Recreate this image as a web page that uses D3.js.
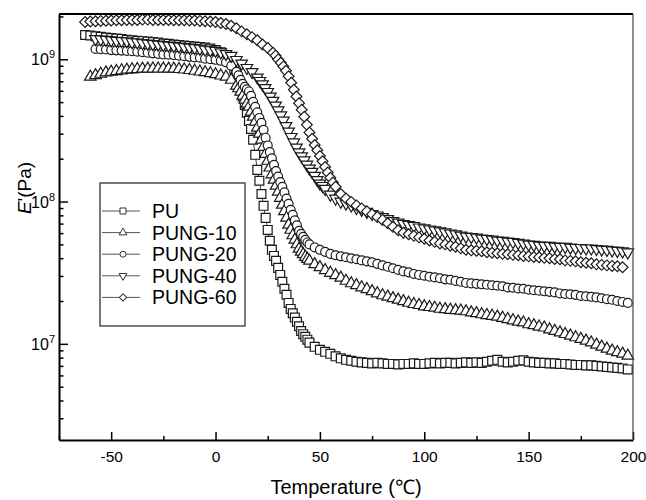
<!DOCTYPE html>
<html lang="en">

<head>
    <meta charset="UTF-8">
    <title>E' vs Temperature</title>
    <script src="https://d3js.org/d3.v7.min.js"></script>
    <style type="text/css">
        body { margin: 0; background: #fff; }
        text { font-family: "Liberation Sans", Arial, sans-serif; fill: #000; }
    </style>
</head>

<body>
    <div id="graph"></div>
</body>
<script>

    // storage modulus E' (Pa), [temperature, E']
    var puData = [
        [-62.5, 1.48e9], [-60, 1.47e9], [-57.5, 1.45e9], [-55, 1.44e9], [-52.5, 1.42e9], [-50, 1.41e9], [-47.5, 1.40e9],
        [-45, 1.39e9], [-42.5, 1.37e9], [-40, 1.36e9], [-37.5, 1.35e9], [-35, 1.34e9], [-32.5, 1.33e9], [-30, 1.32e9],
        [-27.5, 1.31e9], [-25, 1.29e9], [-22.5, 1.285e9], [-20, 1.27e9], [-17.5, 1.26e9], [-15, 1.25e9], [-12.5, 1.24e9],
        [-10, 1.23e9], [-7.5, 1.22e9], [-5, 1.21e9], [-2.5, 1.19e9], [0, 1.16e9], [2.5, 1.12e9], [5, 1.06e9],
        [6, 1.01e9], [7, 9.75e8], [8, 9.29e8], [9, 8.57e8], [10, 7.77e8], [11, 7.05e8], [12, 6.29e8], [13, 5.48e8],
        [14, 4.78e8], [15, 4.21e8], [16, 3.69e8], [17, 3.24e8], [18, 2.72e8], [19, 2.13e8], [20, 1.67e8], [21, 1.40e8],
        [22, 1.13e8], [23, 9.33e7], [24, 7.68e7], [25, 6.32e7], [26, 5.30e7], [27, 4.58e7], [28, 4.15e7], [29, 3.83e7],
        [30, 3.42e7], [31, 3.05e7], [32, 2.73e7], [33, 2.44e7], [34, 2.21e7], [35, 1.94e7], [36, 1.76e7], [37, 1.64e7],
        [38, 1.53e7], [39, 1.43e7], [40, 1.33e7], [41, 1.23e7], [42, 1.17e7], [43, 1.12e7], [44, 1.07e7], [45, 1.02e7],
        [47.5, 9.53e6], [50, 9.08e6], [52.5, 8.79e6], [55, 8.51e6], [57.5, 8.17e6], [60, 7.91e6], [62.5, 7.72e6],
        [65, 7.60e6], [67.5, 7.48e6], [70, 7.41e6], [72.5, 7.35e6], [75, 7.29e6], [77.5, 7.35e6], [80, 7.29e6],
        [82.5, 7.23e6], [85, 7.23e6], [87.5, 7.17e6], [90, 7.23e6], [92.5, 7.23e6], [95, 7.29e6], [97.5, 7.23e6],
        [100, 7.23e6], [102.5, 7.29e6], [105, 7.35e6], [107.5, 7.29e6], [110, 7.35e6], [112.5, 7.35e6], [115, 7.29e6],
        [117.5, 7.35e6], [120, 7.41e6], [122.5, 7.35e6], [125, 7.41e6], [127.5, 7.35e6], [130, 7.48e6], [132.5, 7.60e6],
        [135, 7.72e6], [137.5, 7.48e6], [140, 7.41e6], [142.5, 7.48e6], [145, 7.60e6], [147.5, 7.66e6], [150, 7.48e6],
        [152.5, 7.41e6], [155, 7.35e6], [157.5, 7.35e6], [160, 7.29e6], [162.5, 7.29e6], [165, 7.23e6], [167.5, 7.23e6],
        [170, 7.17e6], [172.5, 7.11e6], [175, 7.11e6], [177.5, 7.06e6], [180, 7.06e6], [182.5, 7.00e6], [185, 6.94e6],
        [187.5, 6.89e6], [190, 6.83e6], [192.5, 6.78e6], [195, 6.72e6], [197.5, 6.61e6]
    ];

    var pung10Data = [
        [-60, 7.52e8], [-57.5, 7.71e8], [-55, 7.89e8], [-52.5, 8.07e8], [-50, 8.15e8], [-47.5, 8.24e8], [-45, 8.34e8],
        [-42.5, 8.43e8], [-40, 8.48e8], [-37.5, 8.52e8], [-35, 8.57e8], [-32.5, 8.57e8], [-30, 8.59e8], [-27.5, 8.59e8],
        [-25, 8.59e8], [-22.5, 8.57e8], [-20, 8.57e8], [-17.5, 8.52e8], [-15, 8.45e8], [-12.5, 8.38e8], [-10, 8.28e8],
        [-7.5, 8.18e8], [-5, 8.09e8], [-2.5, 7.96e8], [0, 7.83e8], [2.5, 7.67e8], [5, 7.52e8], [7.5, 7.16e8], [10, 6.50e8],
        [11, 6.24e8], [12, 5.90e8], [13, 5.53e8], [14, 5.19e8], [15, 4.86e8], [16, 4.63e8], [17, 4.27e8], [18, 3.94e8],
        [19, 3.63e8], [20, 3.30e8], [21, 2.99e8], [22, 2.72e8], [23, 2.42e8], [24, 2.16e8], [25, 1.93e8], [26, 1.73e8],
        [27, 1.55e8], [28, 1.42e8], [29, 1.29e8], [30, 1.17e8], [31, 1.06e8], [32, 9.48e7], [33, 8.53e7], [34, 7.68e7],
        [35, 6.86e7], [36, 6.32e7], [37, 5.78e7], [38, 5.38e7], [39, 5.00e7], [40, 4.65e7], [41, 4.43e7], [42, 4.26e7],
        [43, 4.08e7], [44, 3.95e7], [45, 3.83e7], [47.5, 3.62e7], [50, 3.45e7], [52.5, 3.29e7], [55, 3.15e7],
        [57.5, 3.03e7], [60, 2.91e7], [62.5, 2.77e7], [65, 2.66e7], [67.5, 2.58e7], [70, 2.49e7], [72.5, 2.42e7],
        [75, 2.34e7], [77.5, 2.26e7], [80, 2.19e7], [82.5, 2.14e7], [85, 2.09e7], [87.5, 2.04e7], [90, 1.99e7],
        [92.5, 1.94e7], [95, 1.90e7], [97.5, 1.87e7], [100, 1.83e7], [102.5, 1.81e7], [105, 1.79e7], [107.5, 1.76e7],
        [110, 1.75e7], [112.5, 1.73e7], [115, 1.72e7], [117.5, 1.71e7], [120, 1.69e7], [122.5, 1.66e7], [125, 1.64e7],
        [127.5, 1.61e7], [130, 1.59e7], [132.5, 1.57e7], [135, 1.55e7], [137.5, 1.52e7], [140, 1.49e7], [142.5, 1.46e7],
        [145, 1.43e7], [147.5, 1.41e7], [150, 1.37e7], [152.5, 1.35e7], [155, 1.32e7], [157.5, 1.30e7], [160, 1.26e7],
        [162.5, 1.23e7], [165, 1.20e7], [167.5, 1.17e7], [170, 1.14e7], [172.5, 1.11e7], [175, 1.08e7], [177.5, 1.05e7],
        [180, 1.02e7], [182.5, 9.84e6], [185, 9.53e6], [187.5, 9.23e6], [190, 8.93e6], [192.5, 8.71e6], [195, 8.51e6],
        [197.5, 8.24e6]
    ];

    var pung20Data = [
        [-57.5, 1.18e9], [-55, 1.178e9], [-52.5, 1.17e9], [-50, 1.16e9], [-47.5, 1.155e9], [-45, 1.15e9], [-42.5, 1.145e9],
        [-40, 1.14e9], [-37.5, 1.13e9], [-35, 1.12e9], [-32.5, 1.11e9], [-30, 1.10e9], [-27.5, 1.09e9], [-25, 1.08e9],
        [-22.5, 1.076e9], [-20, 1.07e9], [-17.5, 1.06e9], [-15, 1.05e9], [-12.5, 1.04e9], [-10, 1.03e9], [-7.5, 1.025e9],
        [-5, 1.01e9], [-2.5, 1.00e9], [0, 9.91e8], [2.5, 9.75e8], [5, 9.51e8], [7.5, 8.99e8], [10, 8.15e8],
        [11, 7.71e8], [12, 7.16e8], [13, 6.71e8], [14, 6.40e8], [15, 6.14e8], [16, 5.94e8], [17, 5.53e8], [18, 5.02e8],
        [19, 4.63e8], [20, 4.24e8], [21, 3.87e8], [22, 3.57e8], [23, 3.19e8], [24, 2.81e8], [25, 2.48e8], [26, 2.23e8],
        [27, 2.01e8], [28, 1.81e8], [29, 1.64e8], [30, 1.50e8], [31, 1.37e8], [32, 1.27e8], [33, 1.16e8], [34, 1.05e8],
        [35, 9.64e7], [36, 8.75e7], [37, 8.07e7], [38, 7.38e7], [39, 6.81e7], [40, 6.22e7], [41, 5.93e7], [42, 5.65e7],
        [43, 5.38e7], [44, 5.16e7], [45, 5.00e7], [47.5, 4.76e7], [50, 4.58e7], [52.5, 4.43e7], [55, 4.29e7],
        [57.5, 4.19e7], [60, 4.12e7], [62.5, 4.06e7], [65, 3.99e7], [67.5, 3.93e7], [70, 3.86e7], [72.5, 3.80e7],
        [75, 3.74e7], [77.5, 3.65e7], [80, 3.56e7], [82.5, 3.48e7], [85, 3.40e7], [87.5, 3.31e7], [90, 3.23e7],
        [92.5, 3.18e7], [95, 3.10e7], [97.5, 3.05e7], [100, 3.01e7], [102.5, 2.96e7], [105, 2.93e7], [107.5, 2.89e7],
        [110, 2.84e7], [112.5, 2.82e7], [115, 2.77e7], [117.5, 2.73e7], [120, 2.68e7], [122.5, 2.66e7], [125, 2.64e7],
        [127.5, 2.62e7], [130, 2.60e7], [132.5, 2.58e7], [135, 2.56e7], [137.5, 2.54e7], [140, 2.49e7], [142.5, 2.48e7],
        [145, 2.45e7], [147.5, 2.44e7], [150, 2.40e7], [152.5, 2.38e7], [155, 2.36e7], [157.5, 2.34e7], [160, 2.32e7],
        [162.5, 2.30e7], [165, 2.26e7], [167.5, 2.24e7], [170, 2.23e7], [172.5, 2.21e7], [175, 2.17e7], [177.5, 2.16e7],
        [180, 2.14e7], [182.5, 2.12e7], [185, 2.09e7], [187.5, 2.06e7], [190, 2.04e7], [192.5, 2.00e7], [195, 1.97e7],
        [197.5, 1.94e7]
    ];

    var pung40Data = [
        [-57.5, 1.39e9], [-55, 1.38e9], [-52.5, 1.37e9], [-50, 1.36e9], [-47.5, 1.35e9], [-45, 1.345e9], [-42.5, 1.34e9],
        [-40, 1.32e9], [-37.5, 1.315e9], [-35, 1.30e9], [-32.5, 1.29e9], [-30, 1.28e9], [-27.5, 1.27e9], [-25, 1.26e9],
        [-22.5, 1.25e9], [-20, 1.24e9], [-17.5, 1.23e9], [-15, 1.22e9], [-12.5, 1.21e9], [-10, 1.20e9], [-7.5, 1.19e9],
        [-5, 1.17e9], [-2.5, 1.16e9], [0, 1.15e9], [2.5, 1.12e9], [5, 1.09e9], [7.5, 1.06e9], [10, 9.91e8],
        [12.5, 9.35e8], [15, 8.70e8], [17.5, 8.15e8], [20, 7.46e8], [21.25, 7.05e8], [22.5, 6.67e8], [23.75, 6.29e8],
        [25, 5.90e8], [26.25, 5.48e8], [27.5, 5.11e8], [28.75, 4.74e8], [30, 4.38e8], [31.25, 4.04e8], [32.5, 3.72e8],
        [33.75, 3.40e8], [35, 3.11e8], [36.25, 2.85e8], [37.5, 2.61e8], [38.75, 2.40e8], [40, 2.22e8], [41.25, 2.08e8],
        [42.5, 1.95e8], [43.75, 1.82e8], [45, 1.71e8], [46.25, 1.62e8], [47.5, 1.52e8], [48.75, 1.42e8], [50, 1.34e8],
        [51.25, 1.29e8], [52.5, 1.23e8], [55, 1.12e8], [57.5, 1.05e8], [60, 1.00e8], [62.5, 9.70e7],
        [65, 9.40e7], [67.5, 9.03e7], [70, 8.75e7], [72.5, 8.47e7], [75, 8.20e7], [77.5, 8.00e7], [80, 7.80e7],
        [82.5, 7.55e7], [85, 7.31e7], [87.5, 7.14e7], [90, 6.97e7], [92.5, 6.86e7], [95, 6.75e7], [97.5, 6.59e7],
        [100, 6.49e7], [102.5, 6.38e7], [105, 6.28e7], [107.5, 6.18e7], [110, 6.08e7], [112.5, 5.98e7], [115, 5.89e7],
        [117.5, 5.78e7], [120, 5.69e7], [122.5, 5.65e7], [125, 5.60e7], [127.5, 5.51e7], [130, 5.47e7], [132.5, 5.42e7],
        [135, 5.33e7], [137.5, 5.30e7], [140, 5.25e7], [142.5, 5.21e7], [145, 5.13e7], [147.5, 5.08e7], [150, 5.00e7],
        [152.5, 4.97e7], [155, 4.92e7], [157.5, 4.89e7], [160, 4.89e7], [162.5, 4.84e7], [165, 4.81e7], [167.5, 4.81e7],
        [170, 4.76e7], [172.5, 4.73e7], [175, 4.73e7], [177.5, 4.69e7], [180, 4.69e7], [182.5, 4.65e7], [185, 4.61e7],
        [187.5, 4.58e7], [190, 4.54e7], [192.5, 4.51e7], [195, 4.47e7], [197.5, 4.40e7]
    ];

    var pung60Data = [
        [-62.5, 1.83e9], [-60, 1.84e9], [-57.5, 1.85e9], [-55, 1.86e9], [-52.5, 1.866e9], [-50, 1.87e9], [-47.5, 1.88e9],
        [-45, 1.88e9], [-42.5, 1.89e9], [-40, 1.89e9], [-37.5, 1.89e9], [-35, 1.90e9], [-32.5, 1.90e9], [-30, 1.89e9],
        [-27.5, 1.89e9], [-25, 1.89e9], [-22.5, 1.888e9], [-20, 1.88e9], [-17.5, 1.88e9], [-15, 1.88e9], [-12.5, 1.87e9],
        [-10, 1.87e9], [-7.5, 1.86e9], [-5, 1.85e9], [-2.5, 1.84e9], [0, 1.83e9], [2.5, 1.80e9], [5, 1.77e9],
        [7.5, 1.72e9], [10, 1.65e9], [12.5, 1.57e9], [15, 1.50e9], [17.5, 1.43e9], [20, 1.36e9], [22.5, 1.27e9],
        [25, 1.20e9], [27.5, 1.11e9], [28.75, 1.06e9], [30, 9.98e8], [31.25, 9.46e8], [32.5, 8.91e8], [33.75, 8.29e8],
        [35, 7.59e8], [36.25, 6.83e8], [37.5, 6.10e8], [38.75, 5.48e8], [40, 4.90e8], [41.25, 4.41e8], [42.5, 3.94e8],
        [43.75, 3.46e8], [45, 3.06e8], [46.25, 2.76e8], [47.5, 2.50e8], [48.75, 2.29e8], [50, 2.09e8], [51.25, 1.92e8],
        [52.5, 1.75e8], [53.75, 1.60e8], [55, 1.47e8], [56.25, 1.36e8], [57.5, 1.27e8],
        [60, 1.13e8], [62.5, 1.05e8], [65, 9.95e7], [67.5, 9.40e7], [70, 8.95e7], [72.5, 8.53e7], [75, 8.13e7],
        [77.5, 7.80e7], [80, 7.43e7], [82.5, 7.03e7], [85, 6.64e7], [87.5, 6.28e7], [90, 6.03e7], [92.5, 5.89e7],
        [95, 5.74e7], [97.5, 5.60e7], [100, 5.47e7], [102.5, 5.33e7], [105, 5.21e7], [107.5, 5.08e7], [110, 5.00e7],
        [112.5, 4.89e7], [115, 4.81e7], [117.5, 4.69e7], [120, 4.58e7], [122.5, 4.54e7], [125, 4.51e7], [127.5, 4.47e7],
        [130, 4.40e7], [132.5, 4.37e7], [135, 4.33e7], [137.5, 4.29e7], [140, 4.26e7], [142.5, 4.22e7], [145, 4.19e7],
        [147.5, 4.15e7], [150, 4.12e7], [152.5, 4.08e7], [155, 4.06e7], [157.5, 4.02e7], [160, 3.99e7], [162.5, 3.95e7],
        [165, 3.93e7], [167.5, 3.86e7], [170, 3.83e7], [172.5, 3.80e7], [175, 3.74e7], [177.5, 3.71e7], [180, 3.68e7],
        [182.5, 3.62e7], [185, 3.59e7], [187.5, 3.56e7], [190, 3.53e7], [192.5, 3.51e7], [195, 3.45e7]
    ];

    var seriesNames = ["PU", "PUNG-10", "PUNG-20", "PUNG-40", "PUNG-60"];
    var xTicks = [-50, 0, 50, 100, 150, 200];
    var xMinorTicks = [-75, -25, 25, 75, 125, 175];
    var yTicks = [1e7, 1e8, 1e9];
    var yTickExp = ["7", "8", "9"];

    var allData = [puData, pung10Data, pung20Data, pung40Data, pung60Data];
    var markers = ["square", "triangle", "circle", "triangleDown", "diamond"];

    var width = 646,
        height = 500;
    var plotL = 59, plotR = 633, plotT = 14, plotB = 440;

    var svg = d3.select("#graph")
        .append("svg")
        .attr("width", width)
        .attr("height", height);

    var xscale = d3.scaleLinear()
        .domain([-75, 200])
        .range([plotL, plotR]);

    var yscale = d3.scaleLog()
        .domain([2.11e6, 2.08e9])
        .range([plotB, plotT]);

    // marker shapes, big ones for the curves and small ones for the legend
    function markerPath(kind, big) {
        var s = big ? 1 : 0.68;
        if (kind == "square") return d3.symbol().type(d3.symbolSquare).size(78 * s * s)();
        if (kind == "circle") return d3.symbol().type(d3.symbolCircle).size(62 * s * s)();
        if (kind == "diamond") return d3.symbol().type(d3.symbolSquare).size(58 * s * s)();
        return d3.symbol().type(d3.symbolTriangle).size(58 * s * s)();
    }
    function markerRotate(kind) {
        if (kind == "diamond") return 45;
        if (kind == "triangleDown") return 180;
        return 0;
    }

    var plot = svg.append("g");

    var line = d3.line()
        .x(function (d) { return xscale(d[0]); })
        .y(function (d) { return yscale(d[1]); });

    allData.forEach(function (data, i) {
        var g = plot.append("g");
        g.append("path")
            .attr("d", line(data))
            .attr("fill", "none")
            .attr("stroke", "#444")
            .attr("stroke-width", 1);
        g.selectAll("path.pt")
            .data(data)
            .enter()
            .append("path")
            .attr("class", "pt")
            .attr("d", markerPath(markers[i], true))
            .attr("transform", function (d) {
                return "translate(" + xscale(d[0]) + "," + yscale(d[1]) + ") rotate(" + markerRotate(markers[i]) + ")";
            })
            .attr("fill", "#fff")
            .attr("stroke", "#1a1a1a")
            .attr("stroke-width", 1.2);
    });

    // x axis, ticks point inward
    var x_axis = d3.axisBottom(xscale)
        .tickValues(xTicks)
        .tickSizeInner(-8)
        .tickSizeOuter(0)
        .tickPadding(11)
        .tickFormat(d3.format("d"));

    var xg = svg.append("g")
        .attr("transform", "translate(0," + plotB + ")")
        .call(x_axis);
    xg.select(".domain").attr("stroke", "#000").attr("stroke-width", 2);
    xg.selectAll(".tick line").attr("stroke", "#000").attr("stroke-width", 1.5);
    xg.selectAll(".tick text")
        .style("font-size", "15.5px")
        .text(function (d) { return d < 0 ? "-" + Math.abs(d) : d; });

    svg.append("g")
        .attr("transform", "translate(0," + plotB + ")")
        .call(d3.axisBottom(xscale).tickValues(xMinorTicks).tickSizeInner(-4).tickSizeOuter(0).tickFormat(""))
        .call(function (g) {
            g.select(".domain").remove();
            g.selectAll(".tick line").attr("stroke", "#000").attr("stroke-width", 1.5);
        });

    // y axis (log), ticks point inward
    var yMinor = [];
    [1e6, 1e7, 1e8, 1e9].forEach(function (p) {
        for (var k = 2; k <= 9; k++) {
            var v = k * p;
            if (v > 2.11e6 && v < 2.08e9) yMinor.push(v);
        }
    });

    var yg = svg.append("g")
        .attr("transform", "translate(" + plotL + ",0)")
        .call(d3.axisLeft(yscale).tickValues(yTicks).tickSizeInner(-9).tickSizeOuter(0).tickFormat(""));
    yg.select(".domain").attr("stroke", "#000").attr("stroke-width", 2);
    yg.selectAll(".tick line").attr("stroke", "#000").attr("stroke-width", 1.5);

    svg.append("g")
        .attr("transform", "translate(" + plotL + ",0)")
        .call(d3.axisLeft(yscale).tickValues(yMinor).tickSizeInner(-4.5).tickSizeOuter(0).tickFormat(""))
        .call(function (g) {
            g.select(".domain").remove();
            g.selectAll(".tick line").attr("stroke", "#000").attr("stroke-width", 1.5);
        });

    var ylab = svg.selectAll(".ylab")
        .data(yTicks)
        .enter()
        .append("text")
        .attr("class", "ylab")
        .attr("x", 55)
        .attr("y", function (d) { return yscale(d) + 6; })
        .attr("text-anchor", "end")
        .style("font-size", "16px");
    ylab.append("tspan").text("10");
    ylab.append("tspan")
        .attr("dy", -7)
        .style("font-size", "11px")
        .text(function (d, i) { return yTickExp[i]; });

    // frame top and right
    svg.append("line")
        .attr("x1", plotL).attr("x2", plotR).attr("y1", plotT).attr("y2", plotT)
        .attr("stroke", "#000").attr("stroke-width", 2);
    svg.append("line")
        .attr("x1", plotR).attr("x2", plotR).attr("y1", plotT).attr("y2", plotB)
        .attr("stroke", "#444").attr("stroke-width", 1.2);

    // axis titles
    svg.append("text")
        .attr("x", (plotL + plotR) / 2)
        .attr("y", 494)
        .attr("text-anchor", "middle")
        .style("font-size", "20px")
        .text("Temperature (\u2103)");

    var yt = svg.append("text")
        .attr("transform", "translate(31,188) rotate(-90)")
        .attr("text-anchor", "middle")
        .style("font-size", "19px");
    yt.append("tspan").style("font-style", "italic").text("E");
    yt.append("tspan").text("'(Pa)");

    // legend
    var legend = svg.append("g");
    legend.append("rect")
        .attr("x", 100).attr("y", 183)
        .attr("width", 145).attr("height", 143)
        .attr("fill", "#fff")
        .attr("stroke", "#333")
        .attr("stroke-width", 1.3);

    var item = legend.selectAll(".item")
        .data(seriesNames)
        .enter()
        .append("g")
        .attr("class", "item")
        .attr("transform", function (d, i) { return "translate(0," + (211 + i * 21.6) + ")"; });

    item.append("line")
        .attr("x1", 102).attr("x2", 140)
        .attr("y1", 0).attr("y2", 0)
        .attr("stroke", "#555")
        .attr("stroke-width", 1);
    item.append("path")
        .attr("d", function (d, i) { return markerPath(markers[i], false); })
        .attr("transform", function (d, i) { return "translate(123,0) rotate(" + markerRotate(markers[i]) + ")"; })
        .attr("fill", "#fff")
        .attr("stroke", "#333")
        .attr("stroke-width", 1);
    item.append("text")
        .attr("x", 152)
        .attr("y", 7)
        .style("font-size", "19.5px")
        .text(function (d) { return d; });

</script>

</html>
